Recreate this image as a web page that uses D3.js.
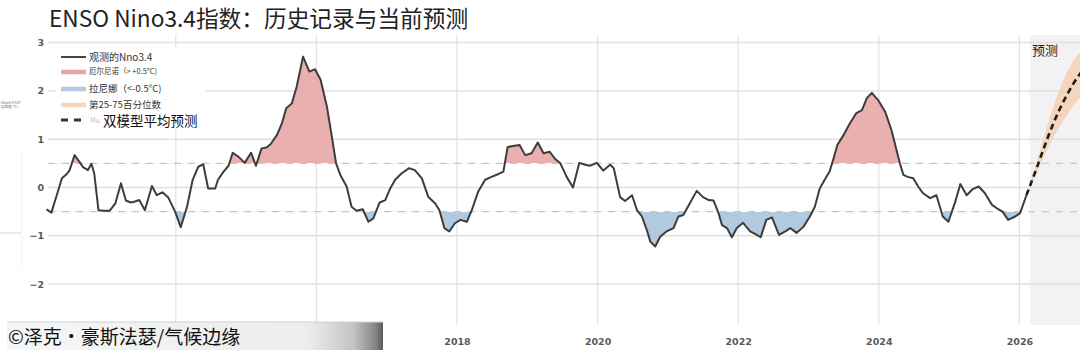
<!DOCTYPE html>
<html>
<head>
<meta charset="utf-8">
<script src="https://cdn.jsdelivr.net/npm/d3@7"></script>
<style>
  html, body { margin: 0; padding: 0; background: #fff; }
  svg { display: block; }
</style>
</head>
<body>
<svg id="chart"></svg>
<script>
'use strict';

const WIDTH = 1080;
const HEIGHT = 350;

const obsDates = [
  2012.16, 2012.23, 2012.30, 2012.38, 2012.45, 2012.49, 2012.56, 2012.63, 2012.68, 2012.75, 2012.80, 2012.84,
  2012.90, 2012.97, 2013.06, 2013.14, 2013.22, 2013.29, 2013.36, 2013.42, 2013.48, 2013.56, 2013.66, 2013.73,
  2013.81, 2013.89, 2013.99, 2014.07, 2014.16, 2014.24, 2014.32, 2014.39, 2014.46, 2014.56, 2014.60, 2014.68,
  2014.75, 2014.81, 2014.89, 2014.98, 2015.07, 2015.14, 2015.22, 2015.29, 2015.35, 2015.44, 2015.51, 2015.57,
  2015.65, 2015.72, 2015.81, 2015.90, 2015.98, 2016.06, 2016.15, 2016.22, 2016.28, 2016.34, 2016.43, 2016.50,
  2016.57, 2016.66, 2016.74, 2016.81, 2016.90, 2016.98, 2017.05, 2017.12, 2017.21, 2017.32, 2017.40, 2017.50,
  2017.59, 2017.69, 2017.75, 2017.82, 2017.89, 2017.97, 2018.05, 2018.14, 2018.21, 2018.30, 2018.40, 2018.49,
  2018.59, 2018.66, 2018.72, 2018.80, 2018.89, 2018.97, 2019.06, 2019.15, 2019.23, 2019.32, 2019.39, 2019.47,
  2019.56, 2019.65, 2019.74, 2019.82, 2019.89, 2019.99, 2020.08, 2020.18, 2020.23, 2020.32, 2020.39, 2020.49,
  2020.56, 2020.63, 2020.70, 2020.75, 2020.82, 2020.89, 2020.98, 2021.08, 2021.15, 2021.22, 2021.31, 2021.41,
  2021.50, 2021.58, 2021.65, 2021.72, 2021.77, 2021.84, 2021.91, 2021.98, 2022.07, 2022.17, 2022.24, 2022.32,
  2022.40, 2022.48, 2022.58, 2022.67, 2022.74, 2022.83, 2022.93, 2023.02, 2023.09, 2023.16, 2023.23, 2023.30,
  2023.35, 2023.41, 2023.50, 2023.59, 2023.68, 2023.76, 2023.83, 2023.90, 2023.99, 2024.09, 2024.18, 2024.30,
  2024.35, 2024.41, 2024.49, 2024.56, 2024.63, 2024.73, 2024.82, 2024.91, 2024.99, 2025.08, 2025.16, 2025.25,
  2025.33, 2025.42, 2025.51, 2025.61, 2025.68, 2025.76, 2025.84, 2025.94, 2026.01, 2026.10
];
const obsValues = [
  -0.45, -0.52, -0.19, 0.19, 0.28, 0.36, 0.67, 0.53, 0.42, 0.36, 0.49, 0.29,
  -0.47, -0.48, -0.48, -0.33, 0.09, -0.27, -0.31, -0.29, -0.26, -0.47, 0.03, -0.16,
  -0.10, -0.20, -0.50, -0.82, -0.40, 0.16, 0.43, 0.48, -0.02, -0.02, 0.16, 0.33,
  0.45, 0.72, 0.64, 0.51, 0.72, 0.45, 0.81, 0.83, 0.90, 1.09, 1.33, 1.64,
  1.74, 2.09, 2.71, 2.40, 2.45, 2.23, 1.67, 1.05, 0.50, 0.26, 0.02, -0.40,
  -0.48, -0.45, -0.71, -0.64, -0.31, -0.26, -0.02, 0.16, 0.29, 0.40, 0.36, 0.19,
  -0.19, -0.33, -0.47, -0.84, -0.91, -0.74, -0.67, -0.71, -0.47, -0.09, 0.16, 0.22,
  0.28, 0.33, 0.84, 0.86, 0.88, 0.67, 0.71, 0.93, 0.71, 0.74, 0.60, 0.50,
  0.22, 0.00, 0.51, 0.47, 0.45, 0.51, 0.35, 0.47, 0.40, -0.20, -0.28, -0.16,
  -0.47, -0.60, -0.88, -1.12, -1.22, -1.02, -0.91, -0.84, -0.60, -0.57, -0.33, -0.07,
  -0.20, -0.26, -0.27, -0.53, -0.78, -0.84, -1.03, -0.84, -0.73, -0.91, -0.96, -1.03,
  -0.67, -0.62, -0.98, -0.91, -0.84, -0.94, -0.81, -0.60, -0.40, -0.02, 0.16, 0.33,
  0.57, 0.88, 1.09, 1.33, 1.54, 1.60, 1.85, 1.96, 1.81, 1.57, 1.19, 0.50,
  0.26, 0.22, 0.19, 0.02, -0.12, -0.22, -0.16, -0.60, -0.71, -0.33, 0.07, -0.16,
  -0.04, 0.02, -0.12, -0.36, -0.43, -0.50, -0.67, -0.60, -0.53, -0.16
];

// two-model mean forecast and 25-75th percentile band
const fcDates = [2026.10, 2026.25, 2026.40, 2026.55, 2026.70, 2026.85, 2026.95];
const fcMean  = [-0.16, 0.42, 1.02, 1.55, 1.98, 2.33, 2.50];
const fcP25   = [-0.17, 0.30, 0.80, 1.20, 1.55, 1.85, 1.98];
const fcP75   = [-0.14, 0.55, 1.30, 1.95, 2.45, 2.78, 2.90];
const forecastStart = 2026.15;

const yTicks = [3, 2, 1, 0, -1, -2];
const xGridYears = [2014, 2016, 2018, 2020, 2022, 2024, 2026];
// 2014 and 2016 labels sit under the watermark in the source
const xTickYears = [2018, 2020, 2022, 2024, 2026];
const thresholds = [0.5, -0.5];

const PLOT_TOP = 35;
const PLOT_BOTTOM = 325;
const PLOT_LEFT = 48;

const svg = d3.select('#chart')
  .attr('width', WIDTH)
  .attr('height', HEIGHT)
  .attr('viewBox', `0 0 ${WIDTH} ${HEIGHT}`)
  .style('font-family', '"Noto Sans CJK SC", "Noto Sans", sans-serif');

const x = d3.scaleLinear().domain([2012, 2027]).range([35.2, 1089.7]);
const y = d3.scaleLinear().domain([-2, 3]).range([284.1, 42.6]);

const obs = obsDates.map((d, i) => ({ t: d, v: obsValues[i] }));
const fc = fcDates.map((d, i) => ({ t: d, m: fcMean[i], lo: fcP25[i], hi: fcP75[i] }));

const defs = svg.append('defs');
defs.append('clipPath').attr('id', 'clip-above')
  .append('rect').attr('x', 0).attr('y', 0).attr('width', WIDTH).attr('height', y(0.5));
defs.append('clipPath').attr('id', 'clip-below')
  .append('rect').attr('x', 0).attr('y', y(-0.5)).attr('width', WIDTH).attr('height', HEIGHT - y(-0.5));

const wmGrad = defs.append('linearGradient').attr('id', 'wm-grad')
  .attr('x1', '0%').attr('x2', '100%').attr('y1', '0%').attr('y2', '0%');
wmGrad.append('stop').attr('offset', '0%').attr('stop-color', '#f6f6f6');
wmGrad.append('stop').attr('offset', '80%').attr('stop-color', '#ededed');
wmGrad.append('stop').attr('offset', '92%').attr('stop-color', '#c4c4c4');
wmGrad.append('stop').attr('offset', '98%').attr('stop-color', '#858585');
wmGrad.append('stop').attr('offset', '100%').attr('stop-color', '#5a5a5a');

// forecast period shading
svg.append('rect')
  .attr('x', x(forecastStart)).attr('y', PLOT_TOP)
  .attr('width', WIDTH - x(forecastStart)).attr('height', PLOT_BOTTOM - PLOT_TOP)
  .attr('fill', '#f2f2f4');

// grid
const grid = svg.append('g').attr('class', 'grid');
xGridYears.forEach(yr => {
  grid.append('line')
    .attr('x1', x(yr)).attr('x2', x(yr))
    .attr('y1', PLOT_TOP).attr('y2', PLOT_BOTTOM)
    .attr('stroke', '#e2e2e2').attr('stroke-width', 1.2);
});
yTicks.forEach(v => {
  grid.append('line')
    .attr('x1', PLOT_LEFT).attr('x2', WIDTH)
    .attr('y1', y(v)).attr('y2', y(v))
    .attr('stroke', '#e0e0e0').attr('stroke-width', 1.5);
});
thresholds.forEach(v => {
  grid.append('line')
    .attr('x1', PLOT_LEFT).attr('x2', WIDTH)
    .attr('y1', y(v)).attr('y2', y(v))
    .attr('stroke', '#c8c8c8').attr('stroke-width', 1.2)
    .attr('stroke-dasharray', '7,7');
});

// El Nino / La Nina fills
const areaAbove = d3.area().x(d => x(d.t)).y0(y(0.5)).y1(d => y(d.v));
const areaBelow = d3.area().x(d => x(d.t)).y0(y(-0.5)).y1(d => y(d.v));
svg.append('path').datum(obs)
  .attr('d', areaAbove).attr('clip-path', 'url(#clip-above)')
  .attr('fill', '#e8a6a6').attr('fill-opacity', 0.9);
svg.append('path').datum(obs)
  .attr('d', areaBelow).attr('clip-path', 'url(#clip-below)')
  .attr('fill', '#a9c4dd').attr('fill-opacity', 0.9);

// forecast band
const band = d3.area().x(d => x(d.t)).y0(d => y(d.lo)).y1(d => y(d.hi)).curve(d3.curveMonotoneX);
svg.append('path').datum(fc).attr('d', band).attr('fill', '#f5d3b6').attr('fill-opacity', 0.9);

// observed line
const line = d3.line().x(d => x(d.t)).y(d => y(d.v));
svg.append('path').datum(obs)
  .attr('d', line).attr('fill', 'none')
  .attr('stroke', '#3d3d3d').attr('stroke-width', 2).attr('stroke-linejoin', 'round');

// forecast mean
const fcLine = d3.line().x(d => x(d.t)).y(d => y(d.m)).curve(d3.curveMonotoneX);
svg.append('path').datum(fc)
  .attr('d', fcLine).attr('fill', 'none')
  .attr('stroke', '#1e1e1e').attr('stroke-width', 2.6).attr('stroke-dasharray', '6,4');

svg.append('text')
  .attr('x', 1032).attr('y', 55)
  .attr('font-size', 13).attr('fill', '#222')
  .text('预测');

// axes
const yAxis = svg.append('g')
  .attr('transform', `translate(${PLOT_LEFT - 2},0)`)
  .call(d3.axisLeft(y).tickValues(yTicks).tickFormat(d3.format('d')).tickSize(0).tickPadding(2));
yAxis.select('.domain').remove();
yAxis.selectAll('text')
  .attr('font-family', '"DejaVu Sans", sans-serif')
  .attr('font-size', 9.5).attr('font-weight', 'bold').attr('fill', '#5a5a5a');

const xAxis = svg.append('g')
  .attr('transform', 'translate(0,335)')
  .call(d3.axisBottom(x).tickValues(xTickYears).tickFormat(d3.format('d')).tickSize(0).tickPadding(3));
xAxis.select('.domain').remove();
xAxis.selectAll('text')
  .attr('font-family', '"DejaVu Sans", sans-serif')
  .attr('font-size', 9.5).attr('font-weight', 'bold').attr('fill', '#5a5a5a');

// legend
const legend = svg.append('g').attr('class', 'legend');
legend.append('rect')
  .attr('x', 56).attr('y', 47).attr('width', 150).attr('height', 81)
  .attr('fill', '#fff');

const LX0 = 61, LX1 = 86, LT = 89;
legend.append('line').attr('x1', LX0).attr('x2', LX1).attr('y1', 57).attr('y2', 57)
  .attr('stroke', '#444').attr('stroke-width', 2);
legend.append('text').attr('x', LT).attr('y', 57).attr('dy', '0.35em')
  .attr('font-size', 10).attr('fill', '#333').text('观测的Nno3.4');

legend.append('line').attr('x1', LX0).attr('x2', LX1).attr('y1', 72).attr('y2', 72)
  .attr('stroke', '#e8a6a6').attr('stroke-width', 4.5);
legend.append('text').attr('x', LT).attr('y', 71).attr('dy', '0.35em')
  .attr('font-size', 7.5).attr('fill', '#333').text('厄尔尼诺（> +0.5°C)');

legend.append('line').attr('x1', LX0).attr('x2', LX1).attr('y1', 89).attr('y2', 89)
  .attr('stroke', '#b3cbe2').attr('stroke-width', 4.5);
legend.append('text').attr('x', LT).attr('y', 89).attr('dy', '0.35em')
  .attr('font-size', 9.5).attr('fill', '#333').text('拉尼娜（<-0.5°C)');

legend.append('line').attr('x1', LX0).attr('x2', LX1).attr('y1', 105).attr('y2', 105)
  .attr('stroke', '#f7d6ba').attr('stroke-width', 4.5);
legend.append('text').attr('x', LT).attr('y', 105).attr('dy', '0.35em')
  .attr('font-size', 9.5).attr('fill', '#333').text('第25-75百分位数');

legend.append('line').attr('x1', LX0).attr('x2', LX1).attr('y1', 120).attr('y2', 120)
  .attr('stroke', '#333').attr('stroke-width', 3).attr('stroke-dasharray', '7,6');
legend.append('text').attr('x', 90).attr('y', 121).attr('dy', '0.35em')
  .attr('font-size', 7).attr('fill', '#c4c4c4').text('Mu');
legend.append('text').attr('x', 103).attr('y', 121).attr('dy', '0.35em')
  .attr('font-size', 13.5).attr('fill', '#111').text('双模型平均预测');

// tiny leftover axis label at the left edge
svg.append('text').attr('x', 1).attr('y', 104)
  .attr('font-size', 3.5).attr('fill', '#666').text('Nino3.4 SST');
svg.append('text').attr('x', 1).attr('y', 108)
  .attr('font-size', 3.5).attr('fill', '#666').text('异常值 (°C)');
svg.append('line').attr('x1', 0).attr('x2', 21).attr('y1', 233).attr('y2', 233)
  .attr('stroke', '#c9d6ea').attr('stroke-width', 1);
svg.append('line').attr('x1', 22).attr('x2', 22).attr('y1', 150).attr('y2', 268)
  .attr('stroke', '#f1f1f1').attr('stroke-width', 1);

// title
svg.append('text')
  .attr('x', 49).attr('y', 27)
  .attr('font-size', 22.7).attr('fill', '#222')
  .text('ENSO Nino3.4指数：历史记录与当前预测');

// watermark
svg.append('rect')
  .attr('x', 7).attr('y', 322).attr('width', 376).attr('height', 28)
  .attr('fill', 'url(#wm-grad)');
svg.append('line').attr('x1', 7).attr('x2', 383).attr('y1', 322).attr('y2', 322)
  .attr('stroke', '#d0d0d0').attr('stroke-width', 1);
svg.append('text')
  .attr('x', 8).attr('y', 344)
  .attr('font-size', 19).attr('fill', '#111')
  .text('©泽克・豪斯法瑟/气候边缘');
</script>
</body>
</html>
